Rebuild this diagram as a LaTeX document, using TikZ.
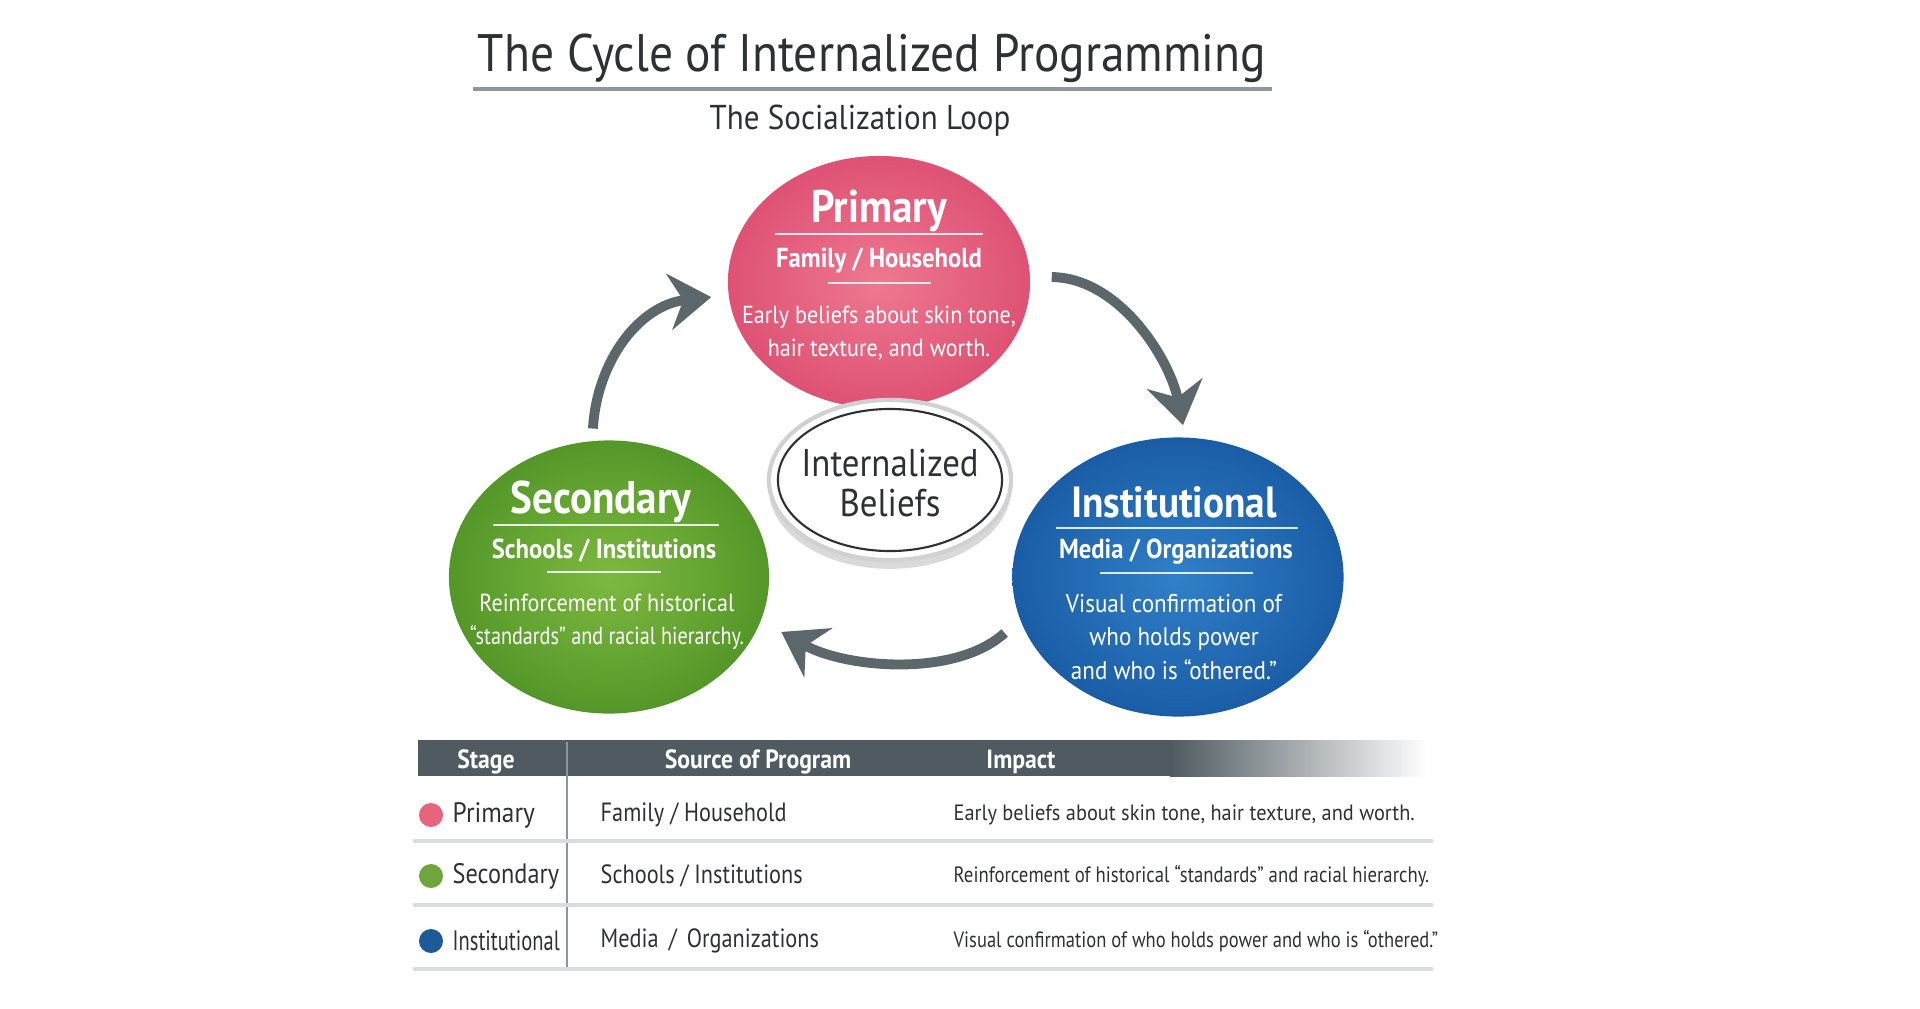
\documentclass[tikz,border=0pt]{standalone}
\usepackage{fontspec}
\setmainfont{PT Sans}[FakeStretch=0.9]
\usetikzlibrary{arrows.meta,shapes.geometric,shadows}
\definecolor{inkgray}{HTML}{2E3133}
\definecolor{arrowgray}{HTML}{5C676C}
\definecolor{headgray}{HTML}{4F5B60}
\definecolor{rulegray}{HTML}{8C979C}
\definecolor{linegray}{HTML}{D9DDDF}
\definecolor{pinkin}{HTML}{EE7890}
\definecolor{pinkout}{HTML}{DE5274}
\definecolor{greenin}{HTML}{7DB93F}
\definecolor{greenout}{HTML}{549729}
\definecolor{bluein}{HTML}{3080C8}
\definecolor{blueout}{HTML}{1A5DA6}
\definecolor{pinkdot}{HTML}{E8647C}
\definecolor{greendot}{HTML}{6FA53C}
\definecolor{bluedot}{HTML}{1C5A9A}
\begin{document}
\begin{tikzpicture}[
   x=0.01cm,y=-0.01cm,
   every node/.style={inner sep=0pt},
   blob/.style={ellipse,inner sep=0pt},
   cyclearrow/.style={draw=arrowgray,line width=2.8pt,-{Stealth[length=12pt,width=16pt,inset=4pt]}},
   blobtitle/.style={text=white,font=\fontsize{13}{15}\selectfont\bfseries},
   blobsrc/.style={text=white,font=\fontsize{7.8}{10}\selectfont\bfseries},
   blobdesc/.style={text=white,align=center,font=\fontsize{7}{9.4}\selectfont},
   blobrule/.style={white,line width=0.7pt,opacity=0.85},
   cell/.style={anchor=west,text=inkgray}
 ]
  \useasboundingbox (0,0) rectangle (1920,1008);
  \node[text=inkgray,font=\fontsize{15}{18}\selectfont] (title) at (872,58) {The Cycle of Internalized Programming};
  \draw[rulegray,line width=1pt] (473,89) -- (1272,89);
  \node[text=inkgray,font=\fontsize{9.8}{11}\selectfont] (subtitle) at (860,121) {The Socialization Loop};

  \node[blob,minimum width=3.02cm,minimum height=2.52cm,inner color=pinkin,outer color=pinkout] (primary) at (879,282) {};
  \node[blob,minimum width=3.20cm,minimum height=2.73cm,inner color=greenin,outer color=greenout] (secondary) at (609,577) {};
  \node[blob,minimum width=3.31cm,minimum height=2.79cm,inner color=bluein,outer color=blueout] (institutional) at (1178,577) {};

  \node[blobtitle] (primtitle) at (879,211) {Primary};
  \draw[blobrule] (775,234) -- (983,234);
  \node[blobsrc] (primsrc) at (879,261) {Family / Household};
  \draw[blobrule] (828,283) -- (931,283);
  \node[blobdesc] (primdesc) at (879,333) {Early beliefs about skin tone,\\hair texture, and worth.};

  \node[blobtitle] (sectitle) at (601,502) {Secondary};
  \draw[blobrule] (493,525) -- (719,525);
  \node[blobsrc] (secsrc) at (604,551) {Schools / Institutions};
  \draw[blobrule] (547,572) -- (661,572);
  \node[blobdesc] (secdesc) at (607,622) {Reinforcement of historical\\\scalebox{0.91}[1]{“standards” and racial hierarchy.}};

  \node[blobtitle,font=\fontsize{12.4}{15}\selectfont\bfseries] (insttitle) at (1174,502) {Institutional};
  \draw[blobrule] (1056,528) -- (1298,528);
  \node[blobsrc] (instsrc) at (1176,552) {Media / Organizations};
  \draw[blobrule] (1100,573) -- (1253,573);
  \node[blobdesc,font=\fontsize{7.3}{9.4}\selectfont] (instdesc) at (1174,637) {Visual confirmation of\\who holds power\\and who is “othered.”};

  \node[blob,minimum width=2.42cm,minimum height=1.60cm,fill=white,draw=black!18,line width=1.2pt,
        drop shadow={shadow xshift=0pt,shadow yshift=-2.5pt,opacity=0.3}] (beliefs) at (890,480) {};
  \node[blob,minimum width=2.24cm,minimum height=1.42cm,draw=inkgray,line width=0.6pt] (beliefsring) at (890,480) {};
  \node[text=inkgray,align=center,font=\fontsize{11}{11.4}\selectfont] (beliefstext) at (890,483) {Internalized\\Beliefs};

  \draw[cyclearrow,shorten <=3.4pt,shorten >=4.8pt] (secondary.97) .. controls (597,360) and (640,305) .. (primary.185);
  \draw[cyclearrow,shorten <=6pt,shorten >=3.4pt] (primary.2) .. controls (1120,278) and (1170,360) .. (institutional.87);
  \draw[cyclearrow,shorten <=5.7pt,shorten >=6.5pt] (institutional.195) .. controls (955,678) and (845,668) .. (secondary.344);

  \fill[headgray] (418,740) rectangle (1170,776);
  \shade[left color=headgray,right color=white] (1170,740) rectangle (1427,776);
  \node[text=white,font=\fontsize{7.5}{9}\selectfont\bfseries] (hstage) at (486,762) {Stage};
  \node[text=white,font=\fontsize{7.5}{9}\selectfont\bfseries] (hsource) at (758,762) {Source of Program};
  \node[text=white,font=\fontsize{7.5}{9}\selectfont\bfseries] (himpact) at (1021,762) {Impact};
  \draw[rulegray,line width=0.8pt] (567,742) -- (567,969);
  \foreach \y in {841,905,969}
    \draw[linegray,line width=1pt] (413,\y) -- (1433,\y);

  \foreach \y/\dotc/\stage/\stw/\source/\impact/\imw [count=\i] in {
    815/pinkdot/Primary/1/{Family / Household}/{Early beliefs about skin tone, hair texture, and worth.}/1.02,
    876/greendot/Secondary/0.96/{Schools / Institutions}/{Reinforcement of historical “standards” and racial hierarchy.}/0.94,
    941/bluedot/Institutional/0.81/{Media \,/\, Organizations}/{Visual confirmation of who holds power and who is “othered.”}/0.93} {
    \node[circle,fill=\dotc,minimum size=0.24cm] (dot\i) at (431,\y) {};
    \node[cell,font=\fontsize{8}{10}\selectfont] (stage\i) at (452,\y) {\scalebox{\stw}[1]{\stage}};
    \node[cell,font=\fontsize{7.5}{10}\selectfont] (source\i) at (600,\y) {\scalebox{0.94}[1]{\source}};
    \node[cell,font=\fontsize{6.3}{8}\selectfont] (impact\i) at (953,\y) {\scalebox{\imw}[1]{\impact}};
  }
 \end{tikzpicture}
\end{document}
